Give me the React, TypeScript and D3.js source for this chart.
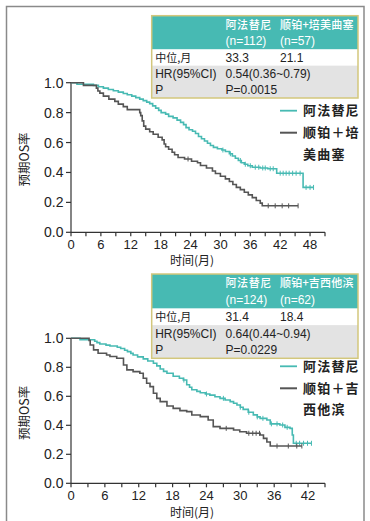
import React from 'react';
import * as d3 from 'd3';

// KM step points [month, survival]
const afaStepsA: [number, number][] = [
  [0, 1.0], [1.2, 0.99], [4.5, 0.982], [5.5, 0.973], [6.5, 0.964], [7.5, 0.955], [8.5, 0.946],
  [9.5, 0.937], [10.5, 0.928], [11.3, 0.919], [12.2, 0.91], [13, 0.9], [13.8, 0.89], [14.5, 0.88],
  [15.2, 0.87], [15.8, 0.86], [16.4, 0.845], [17, 0.83], [17.6, 0.815], [18.1, 0.8], [19, 0.79],
  [19.6, 0.775], [20.5, 0.765], [21.3, 0.75], [22, 0.735], [22.6, 0.72], [23.1, 0.7], [23.7, 0.685],
  [24.4, 0.675], [25, 0.66], [25.6, 0.64], [26.2, 0.625], [26.8, 0.61], [27.4, 0.595], [28, 0.58],
  [28.6, 0.568], [29.4, 0.558], [30.3, 0.55], [31, 0.54], [31.8, 0.525], [32.4, 0.51], [33, 0.495],
  [33.6, 0.48], [34.2, 0.465], [34.8, 0.455], [35.5, 0.445], [36.4, 0.435], [38, 0.43], [39.5, 0.425],
  [41.3, 0.395], [46.6, 0.3],
];
const afaCensorA = [30.5, 32, 34, 35, 36, 37, 37.7, 38.5, 39, 40, 40.6, 42, 42.6, 43.2, 43.8, 44.5, 45.2, 46, 47.2, 48, 48.7];
const afaEndA = 48.7;

const pemStepsA: [number, number][] = [
  [0, 1.0], [2.5, 0.982], [5.1, 0.964], [5.4, 0.945], [5.8, 0.93], [6.5, 0.91], [7.6, 0.89],
  [8.8, 0.875], [9.5, 0.857], [10.5, 0.84], [11.3, 0.82], [13.8, 0.8], [14, 0.78], [14.3, 0.745],
  [14.6, 0.71], [15, 0.69], [15.8, 0.672], [16.5, 0.655], [17.5, 0.635], [18.3, 0.618], [18.7, 0.59],
  [19, 0.572], [19.6, 0.555], [20.3, 0.535], [20.8, 0.518], [21.5, 0.5], [22.8, 0.49], [24.2, 0.475],
  [25.4, 0.465], [26, 0.447], [27.2, 0.43], [28.4, 0.41], [29, 0.393], [30, 0.375], [31, 0.357],
  [31.8, 0.34], [32.5, 0.32], [33.2, 0.3], [34, 0.285], [34.8, 0.268], [35.6, 0.25], [36.4, 0.232],
  [37.2, 0.213], [38, 0.195], [38.4, 0.177],
];
const pemCensorA = [23.5, 39.6, 41, 42.4, 43.7, 45.6];
const pemEndA = 45.6;

const afaStepsB: [number, number][] = [
  [0, 1.0], [1.6, 0.99], [4.2, 0.98], [4.6, 0.97], [5.1, 0.961], [6.2, 0.953], [6.9, 0.947],
  [8.2, 0.938], [8.8, 0.93], [9.5, 0.918], [10, 0.908], [10.6, 0.896], [11, 0.885], [11.8, 0.872],
  [12.8, 0.858], [13.6, 0.843], [14.6, 0.828], [15.2, 0.81], [15.8, 0.788], [16.4, 0.772],
  [17, 0.759], [18.1, 0.738], [19.2, 0.725], [19.9, 0.712], [20.5, 0.68], [21, 0.662], [21.4, 0.645],
  [22.3, 0.634], [22.9, 0.625], [23.8, 0.616], [24.6, 0.608], [25.5, 0.597], [26.4, 0.586],
  [27.3, 0.575], [28.2, 0.563], [28.8, 0.552], [29.4, 0.54], [30, 0.525], [30.5, 0.51], [31.4, 0.49],
  [32.3, 0.472], [33, 0.458], [33.5, 0.448], [34.7, 0.437], [35.3, 0.41], [37, 0.402], [37.9, 0.386],
  [38.8, 0.379], [39.2, 0.333], [39.4, 0.276],
];
const afaCensorB = [20, 24, 27, 30, 31.5, 33, 34, 35.5, 36.5, 37.5, 38.3, 39.9, 40.5, 41.2, 41.9, 42.6];
const afaEndB = 42.6;

const gemStepsB: [number, number][] = [
  [0, 1.0], [3.2, 0.985], [3.4, 0.954], [4, 0.92], [4.8, 0.897], [6.3, 0.885], [6.9, 0.874],
  [8.1, 0.862], [9.3, 0.816], [9.9, 0.782], [11, 0.77], [12.2, 0.759], [12.8, 0.724], [13.4, 0.69],
  [14, 0.667], [14.6, 0.621], [15.2, 0.586], [15.8, 0.563], [17, 0.533], [18.1, 0.517], [19.3, 0.501],
  [20.5, 0.494], [21.4, 0.471], [22.9, 0.46], [24.3, 0.437], [25.2, 0.391], [26.4, 0.379],
  [28.8, 0.368], [29.9, 0.356], [31.1, 0.345], [33.5, 0.333], [34.1, 0.31], [34.7, 0.285], [35.3, 0.257],
];
const gemCensorB = [27.5, 31.5, 32.2, 32.8, 33.4, 36.5, 38.5, 40, 40.9];
const gemEndB = 40.9;

const yTicks = [0, 0.2, 0.4, 0.6, 0.8, 1.0];
const xLabelsA = [0, 6, 12, 18, 24, 30, 36, 42, 48];
const xLabelsB = [0, 6, 12, 18, 24, 30, 36, 42];

const headerA = ['阿法替尼', '顺铂+培美曲塞'];
const nA = ['(n=112)', '(n=57)'];
const rowsA = [['中位,月', '33.3', '21.1'], ['HR(95%CI)', '0.54(0.36~0.79)', ''], ['P', 'P=0.0015', '']];
const legendA = ['阿法替尼', '顺铂＋培', '美曲塞'];

const headerB = ['阿法替尼', '顺铂+吉西他滨'];
const nB = ['(n=124)', '(n=62)'];
const rowsB = [['中位,月', '31.4', '18.4'], ['HR(95%CI)', '0.64(0.44~0.94)', ''], ['P', 'P=0.0229', '']];
const legendB = ['阿法替尼', '顺铂＋吉', '西他滨'];

const TEAL = '#47bab3';
const GREY = '#555555';
const NUM_FONT = '"Liberation Sans", Arial, sans-serif';
const CJK_FONT = '"Noto Sans CJK SC", sans-serif';

type Curve = { steps: [number, number][]; censor: number[]; end: number; color: string };

function survAt(steps: [number, number][], t: number) {
  let s = steps[0][1];
  for (const [tt, v] of steps) if (tt <= t) s = v;
  return s;
}

function KMPanel(props: {
  tableTop: number; tableH: number; plotTop: number; plotBottom: number; xLabelGap: number;
  xMax: number; xLabels: number[]; curves: Curve[];
  header: string[]; ns: string[]; rows: string[][]; legend: string[];
}) {
  const { tableTop, tableH, plotTop, plotBottom, xLabelGap, xMax, xLabels, curves, header, ns, rows, legend } = props;
  const x = d3.scaleLinear().domain([0, xMax]).range([71, 325]);
  const y = d3.scaleLinear().domain([0, 1]).range([plotBottom, plotTop]);
  const line = d3.line<[number, number]>().x(d => x(d[0])).y(d => y(d[1])).curve(d3.curveStepAfter);
  const minorTicks = d3.range(0, xMax + 0.01, 3);
  const tl = 151.7, tw = 206.3;
  const hdrH = tableH * 0.41;
  const rowH = (tableH - hdrH) / 3;
  const c1 = tl + 3.5, c2 = 225.5, c3 = 280;

  return (
    <g>
      {/* table */}
      <rect x={tl} y={tableTop} width={tw} height={hdrH} fill={TEAL} />
      <rect x={tl} y={tableTop + hdrH} width={tw} height={rowH} fill="#ffffff" />
      <rect x={tl} y={tableTop + hdrH + rowH} width={tw} height={rowH * 2} fill="#e3e3e3" />
      <rect x={tl} y={tableTop} width={tw} height={tableH} fill="none" stroke="#d3c77c" strokeWidth={1.5} />
      <g fill="#ffffff" fontFamily={CJK_FONT} fontSize={11} fontWeight={500}>
        <text x={c2} y={tableTop + hdrH * 0.27 + 4} letterSpacing={0.6}>{header[0]}</text>
        <text x={c3} y={tableTop + hdrH * 0.27 + 4} letterSpacing={0.2}>{header[1]}</text>
      </g>
      <g fill="#ffffff" fontFamily={NUM_FONT} fontSize={12}>
        <text x={c2} y={tableTop + hdrH * 0.76 + 4}>{ns[0]}</text>
        <text x={c3} y={tableTop + hdrH * 0.76 + 4}>{ns[1]}</text>
      </g>
      {rows.map((r, i) => (
        <g key={i} fill="#222" fontSize={12}>
          <text x={c1} y={tableTop + hdrH + rowH * (i + 0.5) + 4.3}
            fontFamily={i === 0 ? CJK_FONT : NUM_FONT} fontSize={i === 0 ? 11 : 12}>{r[0]}</text>
          <text x={c2} y={tableTop + hdrH + rowH * (i + 0.5) + 4.3} fontFamily={NUM_FONT}>{r[1]}</text>
          <text x={c3} y={tableTop + hdrH + rowH * (i + 0.5) + 4.3} fontFamily={NUM_FONT}>{r[2]}</text>
        </g>
      ))}

      {/* axes */}
      <line x1={71} x2={71} y1={y(1)} y2={y(0)} stroke="#333" strokeWidth={1.2} />
      <line x1={71} x2={x(xMax)} y1={y(0)} y2={y(0)} stroke="#333" strokeWidth={1.2} />
      {yTicks.map(t => (
        <g key={t}>
          <line x1={66} x2={71} y1={y(t)} y2={y(t)} stroke="#333" strokeWidth={1.2} />
          <text x={63.5} y={y(t) + 5} textAnchor="end" fontFamily={NUM_FONT} fontSize={14} fill="#222">{t.toFixed(1)}</text>
        </g>
      ))}
      {minorTicks.map(t => (
        <line key={t} x1={x(t)} x2={x(t)} y1={y(0)} y2={y(0) + 4} stroke="#333" strokeWidth={1.2} />
      ))}
      {xLabels.map(t => (
        <text key={t} x={x(t)} y={y(0) + 17} textAnchor="middle" fontFamily={NUM_FONT} fontSize={13} fill="#222">{t}</text>
      ))}
      <text x={192} y={y(0) + xLabelGap} textAnchor="middle" fontFamily={CJK_FONT} fontSize={12} fill="#222">时间(月)</text>
      <text transform={`translate(29,${(y(0) + y(1)) / 2 + 2}) rotate(-90)`} textAnchor="middle"
        fontFamily={CJK_FONT} fontSize={12.5} fill="#222">预期OS率</text>

      {/* curves */}
      {curves.map((c, i) => (
        <g key={i}>
          <path d={line([...c.steps, [c.end, c.steps[c.steps.length - 1][1]]]) || ''} fill="none" stroke={c.color} strokeWidth={1.6} />
          {c.censor.map((t, j) => (
            <line key={j} x1={x(t)} x2={x(t)} y1={y(survAt(c.steps, t)) - 2.5} y2={y(survAt(c.steps, t)) + 2.5}
              stroke={c.color} strokeWidth={1} />
          ))}
        </g>
      ))}

      {/* legend */}
      <line x1={280} x2={297} y1={plotTop + 28} y2={plotTop + 28} stroke={TEAL} strokeWidth={1.8} />
      <line x1={280} x2={297} y1={plotTop + 50} y2={plotTop + 50} stroke={GREY} strokeWidth={2} />
      <g fontFamily={CJK_FONT} fontSize={13} fontWeight={700} fill="#222" letterSpacing={1.2}>
        <text x={303} y={plotTop + 32.5}>{legend[0]}</text>
        <text x={303} y={plotTop + 54.5}>{legend[1]}</text>
        <text x={303} y={plotTop + 76}>{legend[2]}</text>
      </g>
    </g>
  );
}

export default function App() {
  return (
    <svg width={370} height={521} style={{ position: 'absolute', left: 0, top: 0, background: '#fff' }}>
      <rect x={0} y={0} width={370} height={521} fill="#fff" />
      <rect x={6.5} y={6.5} width={357.5} height={530} fill="none" stroke="#8a8a8a" strokeWidth={1.5} />
      <KMPanel tableTop={15.7} tableH={82.3} plotTop={82.7} plotBottom={232.3} xLabelGap={33} xMax={51} xLabels={xLabelsA}
        curves={[
          { steps: afaStepsA, censor: afaCensorA, end: afaEndA, color: TEAL },
          { steps: pemStepsA, censor: pemCensorA, end: pemEndA, color: GREY },
        ]}
        header={headerA} ns={nA} rows={rowsA} legend={legendA} />
      <KMPanel tableTop={274} tableH={84.3} plotTop={338.3} plotBottom={483.3} xLabelGap={33.5} xMax={45} xLabels={xLabelsB}
        curves={[
          { steps: afaStepsB, censor: afaCensorB, end: afaEndB, color: TEAL },
          { steps: gemStepsB, censor: gemCensorB, end: gemEndB, color: GREY },
        ]}
        header={headerB} ns={nB} rows={rowsB} legend={legendB} />
    </svg>
  );
}
